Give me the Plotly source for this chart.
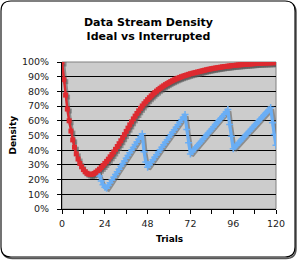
import plotly.graph_objects as go

# ---------------- data ----------------
trials_ideal = list(range(0, 121))
ideal = [100, 88, 77.5, 68, 60, 53, 47, 42, 37.5, 34, 31, 28.7, 26.8, 25.3, 24.3, 23.7, 23.5, 23.7, 24.2, 25,
         26, 27.1, 28.3, 29.6, 31, 32.4, 33.9, 35.5, 37.1, 38.8, 40.6, 42.5, 44.4, 46.4, 48.5, 50.6, 52.8, 55, 57.2, 59.3,
         61.3, 63.2, 65, 66.8, 68.5, 70.1, 71.6, 73, 74.4, 75.7, 76.9, 78.1, 79.2, 80.2, 81.2, 82.1, 83, 83.8, 84.6, 85.3,
         86, 86.7, 87.3, 87.9, 88.5, 89, 89.5, 90, 90.4, 90.8, 91.2, 91.6, 92, 92.3, 92.6, 92.9, 93.2, 93.5, 93.8, 94.1,
         94.4, 94.7, 95, 95.2, 95.5, 95.7, 95.9, 96.1, 96.3, 96.5, 96.7, 96.9, 97, 97.2, 97.3, 97.5, 97.6, 97.7, 97.9, 98,
         98.1, 98.2, 98.3, 98.4, 98.5, 98.6, 98.7, 98.8, 98.9, 99, 99.05, 99.1, 99.2, 99.25, 99.3, 99.35, 99.4, 99.45, 99.5, 99.55,
         99.6]

trials_interrupted = list(range(20, 121))
interrupted = [26.0, 22.5, 19.0, 16.5, 14.8, 14.2, 16.0, 17.9, 19.7, 21.6,
               23.4, 25.3, 27.1, 29.0, 30.8, 32.7, 34.5, 36.4, 38.2, 40.1,
               41.9, 43.8, 45.6, 47.5, 49.3, 51.2, 39.0, 32.0, 28.4, 30.1,
               31.8, 33.5, 35.2, 36.9, 38.6, 40.3, 42.0, 43.7, 45.4, 47.1,
               48.8, 50.5, 52.2, 53.9, 55.6, 57.3, 59.0, 60.7, 62.5, 64.3,
               54.0, 45.0, 37.5, 39.0, 40.4, 41.8, 43.2, 44.6, 46.0, 47.5,
               48.9, 50.3, 51.7, 53.1, 54.5, 55.9, 57.4, 58.8, 60.2, 61.6,
               63.0, 64.5, 66.0, 67.7, 57.5, 49.5, 41.0, 42.3, 43.6, 45.0,
               46.3, 47.6, 49.0, 50.3, 51.6, 52.9, 54.3, 55.6, 56.9, 58.2,
               59.6, 60.9, 62.2, 63.6, 64.9, 66.2, 67.6, 69.0, 58.7, 50.7,
               43.4]

x_tickvals = [0, 24, 48, 72, 96, 120]
y_tickvals = [0, 10, 20, 30, 40, 50, 60, 70, 80, 90, 100]
y_ticktext = ["0%", "10%", "20%", "30%", "40%", "50%", "60%", "70%", "80%", "90%", "100%"]

title_text = "Data Stream Density<br>Ideal vs Interrupted"
x_title = "Trials"
y_title = "Density"

# ---------------- layout geometry ----------------
W, H = 297, 260
ML, MR, MT, MB = 62, 21, 62, 51
PW, PH = W - ML - MR, H - MT - MB
XR = [0, 120]
YR = [0, 100]
# shadow offset (px) converted to axis units
sdx = 2 * (XR[1] - XR[0]) / PW
sdy = 2 * (YR[1] - YR[0]) / PH

RED = "#DE2A30"
BLUE = "#6AAEF5"
SHADOW = "rgba(90,90,90,0.55)"
FONT = "DejaVu Sans"

fig = go.Figure()

# shadows (base axes, shifted)
fig.add_trace(go.Scatter(x=trials_interrupted, y=interrupted, mode="lines",
                         line=dict(color=SHADOW, width=3.2), hoverinfo="skip",
                         xaxis="x", yaxis="y", showlegend=False))
fig.add_trace(go.Scatter(x=trials_ideal, y=ideal, mode="lines+markers",
                         line=dict(color=SHADOW, width=2.5),
                         marker=dict(symbol="square", size=5, color=SHADOW),
                         hoverinfo="skip", xaxis="x", yaxis="y", showlegend=False))
# main series
fig.add_trace(go.Scatter(x=trials_interrupted, y=interrupted, mode="lines+markers",
                         name="Interrupted",
                         line=dict(color=BLUE, width=3.2),
                         marker=dict(symbol="cross-thin", size=5, color=BLUE,
                                     line=dict(color=BLUE, width=1.5)),
                         xaxis="x2", yaxis="y2", showlegend=False))
fig.add_trace(go.Scatter(x=trials_ideal, y=ideal, mode="lines+markers",
                         name="Ideal",
                         line=dict(color=RED, width=2.5),
                         marker=dict(symbol="square", size=5, color=RED),
                         xaxis="x2", yaxis="y2", showlegend=False))


def px2paper(px, py):
    return (px - ML) / PW, (H - MB - py) / PH


def rounded_path(x0, y0, x1, y1, r):
    def P(a, b):
        u, v = px2paper(a, b)
        return f"{u:.5f},{v:.5f}"
    path = (f"M {P(x0 + r, y0)} L {P(x1 - r, y0)} Q {P(x1, y0)} {P(x1, y0 + r)} "
            f"L {P(x1, y1 - r)} Q {P(x1, y1)} {P(x1 - r, y1)} "
            f"L {P(x0 + r, y1)} Q {P(x0, y1)} {P(x0, y1 - r)} "
            f"L {P(x0, y0 + r)} Q {P(x0, y0)} {P(x0 + r, y0)} Z")
    return path


shapes = [
    # chart-area shadow and border
    dict(type="path", xref="paper", yref="paper", path=rounded_path(2.5, 2.5, 296, 258.5, 10),
         line=dict(color="#555555", width=1.5), layer="below"),
    dict(type="path", xref="paper", yref="paper", path=rounded_path(1, 1, 295, 257, 10),
         line=dict(color="black", width=1.1), fillcolor="white", layer="below"),
    # plot area
    dict(type="rect", xref="paper", yref="paper", x0=0, y0=0, x1=1, y1=1,
         line=dict(color="#808080", width=1), fillcolor="#CCCCCC", layer="below"),
]

tickfont = dict(family=FONT, size=9.5, color="#222222")

fig.update_layout(
    width=W, height=H,
    margin=dict(l=ML, r=MR, t=MT, b=MB, pad=0),
    paper_bgcolor="white",
    plot_bgcolor="rgba(0,0,0,0)",
    showlegend=False,
    shapes=shapes,
    title=dict(text=title_text, x=0.5, xref="container", xanchor="center",
               y=1 - 25.5 / H, yref="container", yanchor="middle",
               font=dict(family=FONT, size=11, color="black", weight="bold")),
    xaxis=dict(range=[XR[0] - sdx, XR[1] - sdx], visible=False, fixedrange=True),
    yaxis=dict(range=[YR[0] + sdy, YR[1] + sdy], visible=False, fixedrange=True),
    xaxis2=dict(range=XR, overlaying="x", side="bottom", tickvals=x_tickvals,
                ticks="outside", ticklen=4, tickwidth=1, tickcolor="black",
                minor=dict(dtick=12, tick0=0, ticks="outside", ticklen=4, tickcolor="black", showgrid=False),
                showline=True, linecolor="black", linewidth=1, showgrid=False, zeroline=False,
                tickfont=tickfont, ticklabelstandoff=2, layer="below traces", anchor="y2"),
    yaxis2=dict(range=YR, overlaying="y", side="left", tickvals=y_tickvals, ticktext=y_ticktext,
                ticks="outside", ticklen=4, tickwidth=1, tickcolor="black",
                showline=True, linecolor="black", linewidth=1,
                showgrid=True, gridcolor="black", gridwidth=1, zeroline=False,
                tickfont=tickfont, ticklabelstandoff=6, layer="below traces", anchor="x2"),
    annotations=[
        dict(text=y_title, xref="paper", yref="paper", x=px2paper(12, 0)[0], y=0.5,
             textangle=-90, showarrow=False, xanchor="center", yanchor="middle",
             font=dict(family=FONT, size=9, color="black", weight="bold")),
        dict(text=x_title, xref="paper", yref="paper", x=0.5, y=px2paper(0, 239.5)[1],
             showarrow=False, xanchor="center", yanchor="middle",
             font=dict(family=FONT, size=9, color="black", weight="bold")),
    ],
)

fig.write_html("out.html")
